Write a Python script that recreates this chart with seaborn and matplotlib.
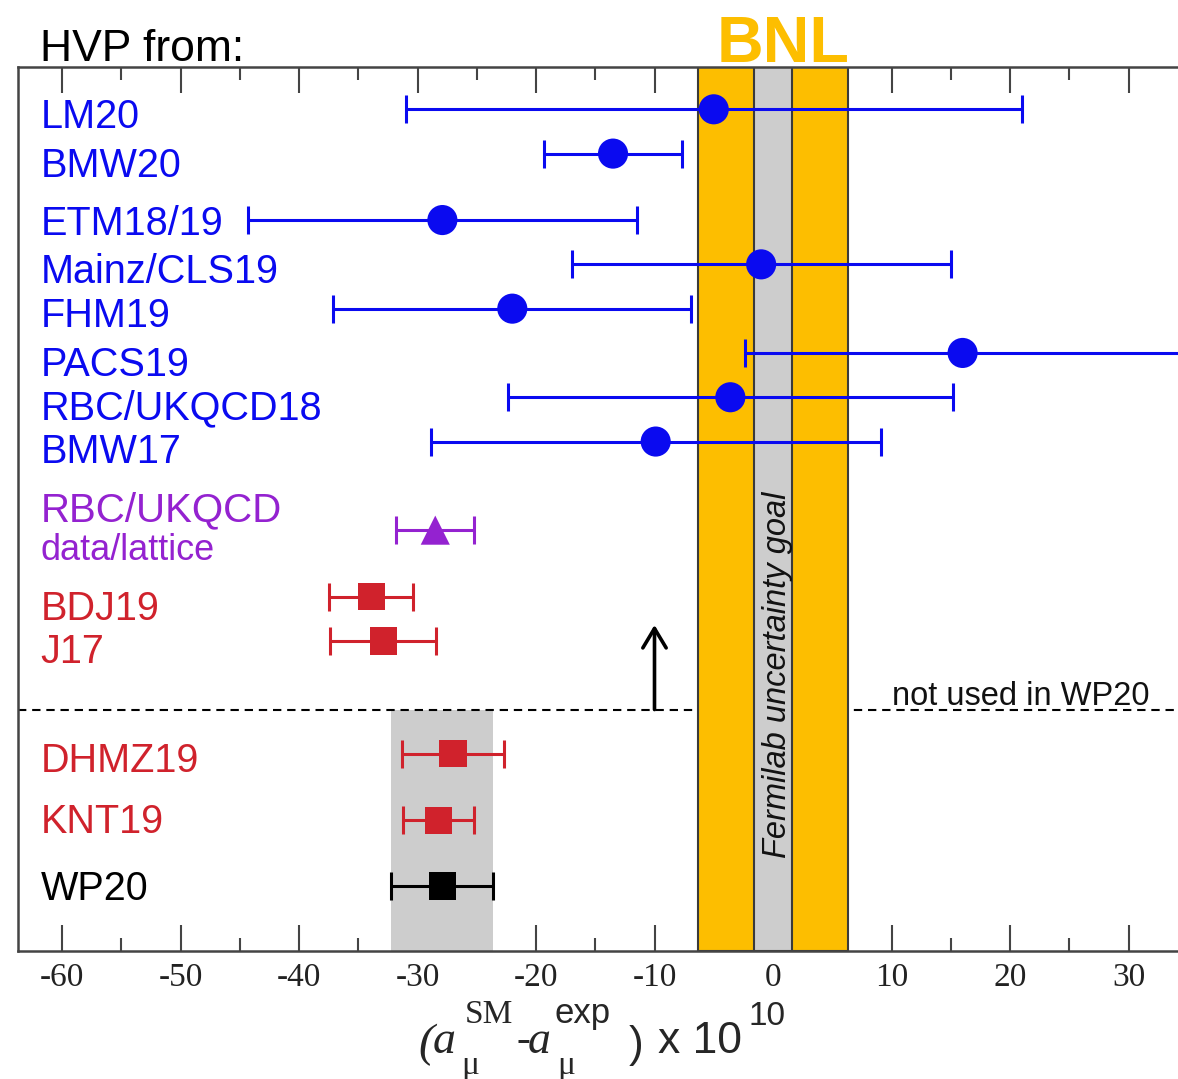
import numpy as np
import pandas as pd
import matplotlib
matplotlib.use("Agg")
import matplotlib.pyplot as plt
import seaborn as sns

# ---------------- data ----------------
labels = ["LM20", "BMW20", "ETM18/19", "Mainz/CLS19", "FHM19", "PACS19",
          "RBC/UKQCD18", "BMW17", "RBC/UKQCD", "BDJ19", "J17",
          "DHMZ19", "KNT19", "WP20"]
central = [-5.0, -13.5, -27.9, -1.0, -22.0, 16.0, -3.6, -9.9,
           -28.5, -33.9, -32.9, -27.0, -28.2, -27.9]
errors = [26.0, 5.8, 16.4, 16.0, 15.1, 18.4, 18.8, 19.0,
          3.3, 3.55, 4.5, 4.33, 3.0, 4.3]
groups = ["lattice"] * 8 + ["hybrid"] + ["pheno"] * 4 + ["wp"]
rows = [19.0, 18.0, 16.5, 15.5, 14.5, 13.5, 12.5, 11.5,
        9.5, 8.0, 7.0, 4.45, 2.95, 1.47]
label_base = [18.57, 17.48, 16.16, 15.07, 14.09, 12.97, 11.99, 11.02,
              9.69, 7.47, 6.49, 4.05, 2.66, 1.15]
sublabel = "data/lattice"
sublabel_base = 8.83

bnl_half = 6.3          # BNL band half width
fnal_half = 1.6         # Fermilab uncertainty goal half width
wp_center, wp_err = -27.9, 4.3
cut_row = 5.45          # "not used in WP20" separator
arrow_top = 7.36
arrow_x = -10.0
xticks = [-60, -50, -40, -30, -20, -10, 0, 10, 20, 30]
xticklabels = ["-60", "-50", "-40", "-30", "-20", "-10", "0", "10", "20", "30"]

colors = {"lattice": "#0A0AF0", "hybrid": "#9422D0", "pheno": "#D0222C", "wp": "#000000"}
markers = {"lattice": "o", "hybrid": "^", "pheno": "s", "wp": "s"}
sizes = {"lattice": 470, "hybrid": 440, "pheno": 385, "wp": 385}
ORANGE = "#FDBE00"
GRAY = "#CDCDCD"

df = pd.DataFrame({"label": labels, "value": central, "err": errors,
                   "group": groups, "row": rows})

# ---------------- figure ----------------
sns.set_theme(style="ticks")
plt.rcParams["font.family"] = ["Liberation Sans", "DejaVu Sans"]

W, H = 1178, 1079
fig = plt.figure(figsize=(W / 100, H / 100), dpi=100)
x0_px, ppu = 773.0, 11.85
xlim = (-63.7, 40.0)
top_px, bot_px = 66.5, 951.0
ax = fig.add_axes([(x0_px + xlim[0] * ppu) / W, 1 - bot_px / H,
                   (xlim[1] - xlim[0]) * ppu / W, (bot_px - top_px) / H])
ax.set_xlim(*xlim)
ax.set_ylim(0, (bot_px - top_px) / 44.3)

# bands
ax.fill_betweenx([0, cut_row], wp_center - wp_err, wp_center + wp_err,
                 color=GRAY, lw=0, zorder=1)
ax.axhline(cut_row, color="black", lw=1.5, ls=(0, (4, 2.8)), zorder=1.2)
ax.axvspan(-bnl_half, bnl_half, facecolor=ORANGE, edgecolor="#3a3a3a", lw=1.5, zorder=1.5)
ax.axvspan(-fnal_half, fnal_half, facecolor=GRAY, edgecolor="#3a3a3a", lw=1.5, zorder=1.6)

# error bars
for g, sub in df.groupby("group"):
    ax.errorbar(sub["value"], sub["row"], xerr=sub["err"], fmt="none",
                ecolor=colors[g], elinewidth=2.2, capsize=10, capthick=2.2, zorder=3)

# markers
sns.scatterplot(data=df, x="value", y="row", hue="group", style="group",
                size="group", sizes=sizes, palette=colors, markers=markers,
                linewidth=0, legend=False, ax=ax, zorder=4)

# arrow
ax.annotate("", xy=(arrow_x, arrow_top), xytext=(arrow_x, cut_row),
            arrowprops=dict(arrowstyle="->,head_length=0.5,head_width=0.3",
                            lw=2.6, color="black", shrinkA=0, shrinkB=0,
                            mutation_scale=28), zorder=3)

# labels
for lab, yb, g in zip(labels, label_base, groups):
    fs = 29 if lab == "RBC/UKQCD" else 28.5
    ax.text(-61.8, yb, lab, color=colors[g], fontsize=fs, va="baseline", ha="left")
ax.text(-61.8, sublabel_base, sublabel, color=colors["hybrid"], fontsize=26,
        va="baseline", ha="left")

ax.text(0.35, 6.23, "Fermilab uncertainty goal", rotation=90, ha="center",
        va="center", style="italic", fontsize=23.5, color="#111111", zorder=2)
ax.text(10.0, cut_row + 0.11, "not used in WP20", fontsize=23.5, va="baseline",
        ha="left", color="#111111")

# axes styling
ax.set_xticks(xticks)
ax.set_xticklabels(xticklabels, fontfamily="Liberation Serif", fontsize=24, color="#222222")
ax.set_xticks(np.arange(-60, 40, 5), minor=True)
ax.set_yticks([])
ax.tick_params(axis="x", which="major", direction="in", length=18.5, width=1.5,
               top=True, bottom=True, color="#444444", pad=8)
ax.tick_params(axis="x", which="minor", direction="in", length=9.5, width=1.5,
               top=True, bottom=True, color="#444444")
for s in ax.spines.values():
    s.set_color("#444444")
    s.set_linewidth(1.8)
ax.spines["right"].set_visible(False)
ax.set_xlabel("")
ax.set_ylabel("")

# header texts
def ftxt(xp, yp, s, **kw):
    fig.text(xp / W, 1 - yp / H, s, va="baseline", **kw)

ftxt(40, 61, "HVP from:", fontsize=32, color="black")
ftxt(783, 62, "BNL", fontsize=46.5, fontweight="bold", color=ORANGE, ha="center")

# x-axis label pieces
serif = "Liberation Serif"
ftxt(418, 1056, "(", family=serif, style="italic", fontsize=34)
ftxt(433, 1053, "a", family=serif, style="italic", fontsize=33)
ftxt(461, 1074, "μ", family=serif, fontsize=24)
ftxt(465, 1023, "SM", family=serif, fontsize=24)
ftxt(516, 1051, "-", family=serif, fontsize=30)
ftxt(528, 1053, "a", family=serif, style="italic", fontsize=33)
ftxt(557, 1074, "μ", family=serif, fontsize=24)
ftxt(554, 1023, "exp", fontsize=25)
ftxt(629, 1057, ")", fontsize=32)
ftxt(658, 1053, "x 10", fontsize=32)
ftxt(749, 1025, "10", fontsize=24)

fig.savefig("out.png", dpi=100)
